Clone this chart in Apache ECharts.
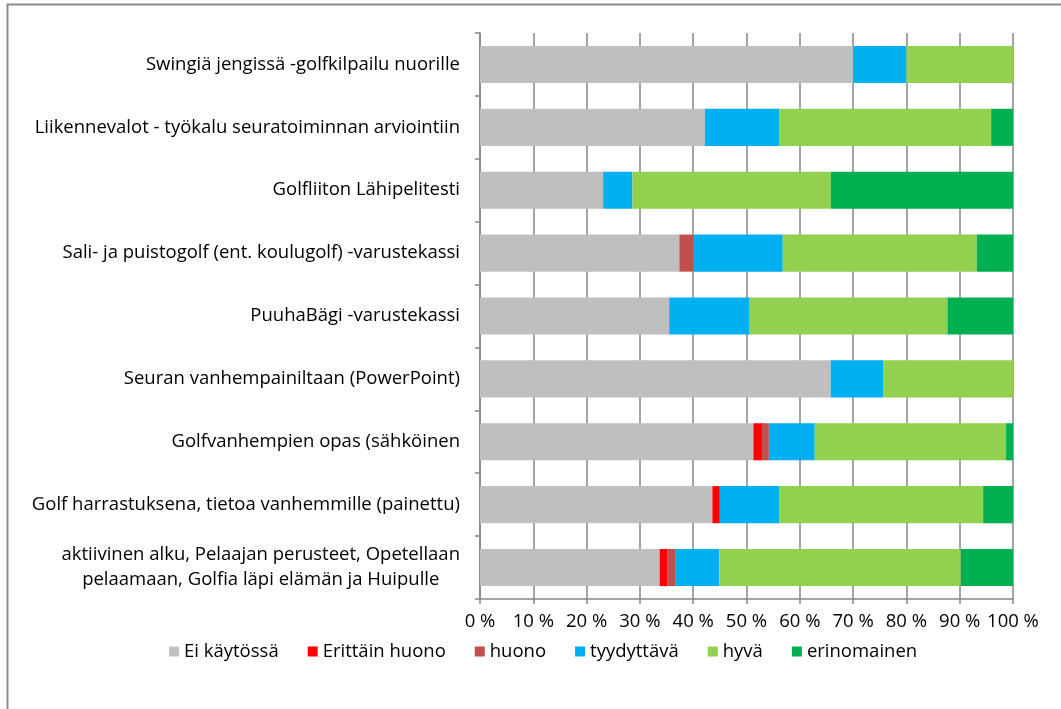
<!DOCTYPE html>
<html>
<head>
<meta charset="utf-8">
<script src="https://cdn.jsdelivr.net/npm/echarts@6/dist/echarts.min.js"></script>
<style>html,body{margin:0;padding:0;background:#fff;}#c{width:1061px;height:709px;}</style>
</head>
<body>
<div id="c"></div>
<script>
const categories = [
  'Swingiä jengissä -golfkilpailu nuorille',
  'Liikennevalot - työkalu seuratoiminnan arviointiin',
  'Golfliiton Lähipelitesti',
  'Sali- ja puistogolf (ent. koulugolf) -varustekassi',
  'PuuhaBägi -varustekassi',
  'Seuran vanhempainiltaan (PowerPoint)',
  'Golfvanhempien opas (sähköinen',
  'Golf harrastuksena, tietoa vanhemmille (painettu)',
  'aktiivinen alku, Pelaajan perusteet, Opetellaan\npelaamaan, Golfia läpi elämän ja Huipulle'
];
const xTicks = [0,10,20,30,40,50,60,70,80,90,100];
const eiKaytossa    = [70.0, 42.2, 23.1, 37.4, 35.5, 65.8, 51.3, 43.6, 33.7];
const erittainHuono = [0,    0,    0,    0,    0,    0,    1.6,  1.4,  1.4];
const huono         = [0,    0,    0,    2.7,  0,    0,    1.3,  0,    1.5];
const tyydyttava    = [10.0, 14.0, 5.5,  16.7, 15.1, 9.9,  8.6,  11.2, 8.3];
const hyva          = [20.0, 39.7, 37.2, 36.4, 37.1, 24.3, 35.9, 38.2, 45.3];
const erinomainen   = [0,    4.1,  34.2, 6.8,  12.3, 0,    1.3,  5.6,  9.8];

const seriesDefs = [
  ['Ei käytössä', eiKaytossa, '#BFBFBF'],
  ['Erittäin huono', erittainHuono, '#FF0000'],
  ['huono', huono, '#C0504D'],
  ['tyydyttävä', tyydyttava, '#00B0F0'],
  ['hyvä', hyva, '#92D050'],
  ['erinomainen', erinomainen, '#00B050']
];
const font = '"Open Sans", Lato, sans-serif';
const fs = 18.5;
const chart = echarts.init(document.getElementById('c'), null, {renderer:'canvas'});
chart.setOption({
  animation: false,
  textStyle: {fontFamily: font},
  graphic: [{
    type: 'rect', silent: true, z: -1,
    shape: {x: 7.5, y: 4.5, width: 1200, height: 1000},
    style: {fill: 'none', stroke: '#8c8c8c', lineWidth: 2}
  }],
  grid: {left: 480, right: 48, top: 33, bottom: 110, containLabel: false},
  legend: {
    top: 637, left: 164,
    itemWidth: 10, itemHeight: 10, itemGap: 29,
    icon: 'rect',
    textStyle: {fontSize: fs, color: '#000', fontFamily: font},
    data: seriesDefs.map(d => d[0])
  },
  xAxis: {
    type: 'value', min: 0, max: 100, interval: 10,
    axisLine: {show: true, lineStyle: {color: '#868686', width: 1.5}},
    axisTick: {show: true, length: 5, lineStyle: {color: '#868686', width: 1.5}},
    axisLabel: {formatter: v => xTicks.includes(v) ? v + ' %' : '', fontSize: fs, color: '#000', margin: 13, fontFamily: font},
    splitLine: {show: true, lineStyle: {color: '#868686', width: 1.5}}
  },
  yAxis: {
    type: 'category', inverse: true, data: categories,
    axisLine: {show: true, lineStyle: {color: '#868686', width: 1.5}},
    axisTick: {show: true, length: 5, alignWithLabel: false, lineStyle: {color: '#868686', width: 1.5}},
    axisLabel: {fontSize: fs, color: '#000', margin: 20, lineHeight: 25, align: 'right', fontFamily: font,
      formatter: v => v.split('\n').map(s => '{c|' + s + '}').join('\n'),
      rich: {c: {align: 'center', fontSize: fs, lineHeight: 25, fontFamily: font, color: '#000'}}
    }
  },
  series: seriesDefs.map(d => ({
    name: d[0], type: 'bar', stack: 'total', data: d[1],
    barCategoryGap: '41%',
    itemStyle: {color: d[2]}
  }))
});
</script>
</body>
</html>
